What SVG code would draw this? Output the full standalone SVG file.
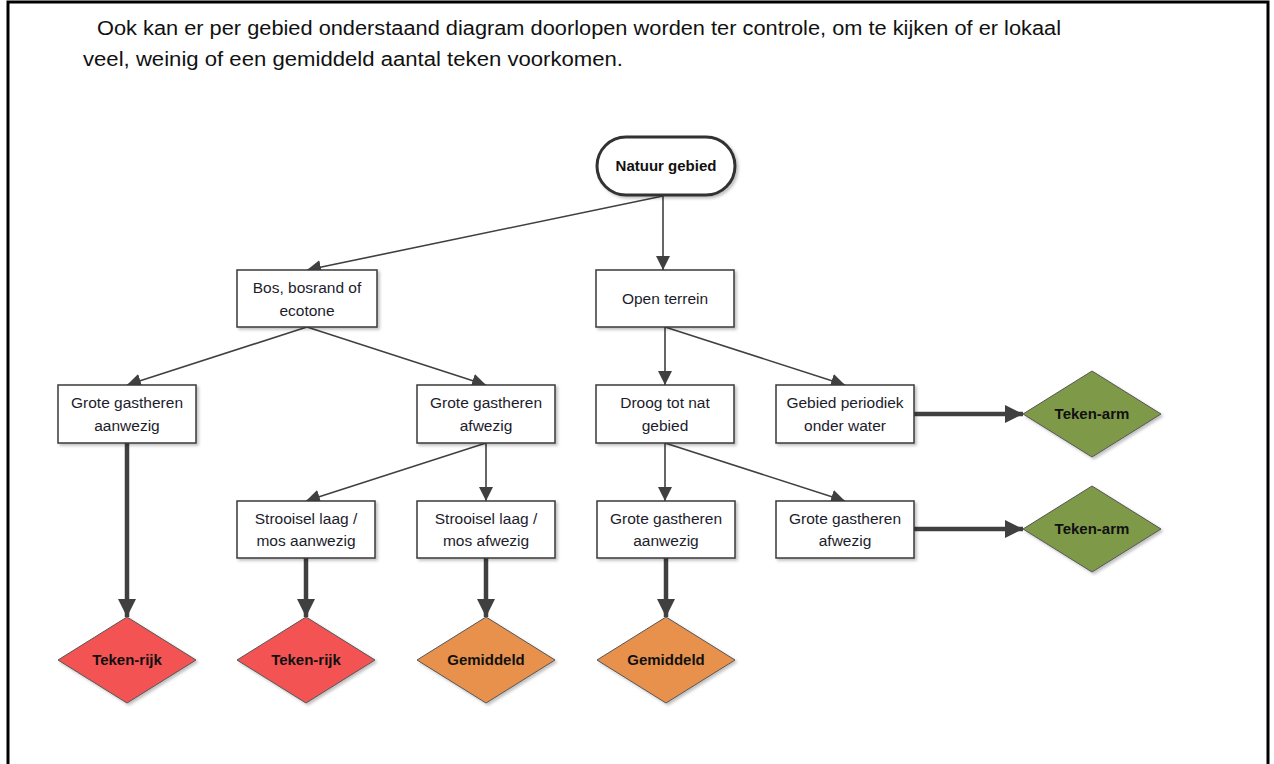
<svg xmlns="http://www.w3.org/2000/svg" width="1274" height="764" viewBox="0 0 1274 764">
<style>
.title{font-family:"Liberation Sans","DejaVu Sans",sans-serif;font-size:20px;fill:#111}
.box{fill:#fff;stroke:#3a3a3a;stroke-width:1.5}
.lbl{font-family:"Liberation Sans","DejaVu Sans",sans-serif;font-size:15.5px;fill:#1c1c2c;text-anchor:middle}
.dlbl{font-family:"Liberation Sans","DejaVu Sans",sans-serif;font-size:15px;font-weight:bold;fill:#111;text-anchor:middle}
.thin{stroke:#404040;stroke-width:1.6;fill:none;marker-end:url(#ah)}
.thick{stroke:#404040;stroke-width:4.5;fill:none;marker-end:url(#ahb)}
.red{fill:#F45252;stroke:#555;stroke-width:1}
.org{fill:#E8914E;stroke:#555;stroke-width:1}
.grn{fill:#7E9A48;stroke:#555;stroke-width:1}
</style>
<defs>
<filter id="sh" x="-20%" y="-20%" width="140%" height="140%">
<feDropShadow dx="2" dy="2" stdDeviation="1.5" flood-color="#000" flood-opacity="0.25"/>
</filter>
<marker id="ah" viewBox="0 0 10 10" refX="10" refY="5" markerWidth="14" markerHeight="14" markerUnits="userSpaceOnUse" orient="auto">
<path d="M0,0 L10,5 L0,10 Z" fill="#404040"/>
</marker>
<marker id="ahb" viewBox="0 0 10 10" refX="10" refY="5" markerWidth="18" markerHeight="18" markerUnits="userSpaceOnUse" orient="auto">
<path d="M0,0 L10,5 L0,10 Z" fill="#404040"/>
</marker>
</defs>
<rect x="0" y="0" width="1274" height="764" fill="#fff"/>
<path d="M8,764 V2 H1268 V764" fill="none" stroke="#000" stroke-width="3"/>
<text class="title" x="97" y="35" textLength="964" lengthAdjust="spacingAndGlyphs">Ook kan er per gebied onderstaand diagram doorlopen worden ter controle, om te kijken of er lokaal</text>
<text class="title" x="83" y="66" textLength="540" lengthAdjust="spacingAndGlyphs">veel, weinig of een gemiddeld aantal teken voorkomen.</text>

<g id="connectors">
<path class="thin" d="M663,196 L307,270"/>
<path class="thin" d="M663,196 L663,270"/>
<path class="thin" d="M307,327 L127,385"/>
<path class="thin" d="M307,327 L486,385"/>
<path class="thin" d="M665,327 L665,385"/>
<path class="thin" d="M665,327 L845,385"/>
<path class="thin" d="M486,443 L306,501"/>
<path class="thin" d="M486,443 L486,501"/>
<path class="thin" d="M665,443 L665,501"/>
<path class="thin" d="M665,443 L845,501"/>
<path class="thick" d="M127,443 L127,617"/>
<path class="thick" d="M306,558 L306,617"/>
<path class="thick" d="M486,558 L486,617"/>
<path class="thick" d="M666,558 L666,617"/>
<path class="thick" d="M914,414 L1023,414"/>
<path class="thick" d="M914,529 L1023,529"/>
</g>

<g id="root">
<rect x="597" y="137" width="138" height="58" rx="29" ry="29" fill="#fff" stroke="#333" stroke-width="3" filter="url(#sh)"/>
<text class="dlbl" x="666" y="171">Natuur gebied</text>
</g>
<g id="bos">
<rect class="box" x="237" y="270" width="140" height="57" filter="url(#sh)"/>
<text class="lbl" x="307" y="293">Bos, bosrand of</text>
<text class="lbl" x="307" y="316">ecotone</text>
</g>
<g id="open">
<rect class="box" x="596" y="270" width="138" height="57" filter="url(#sh)"/>
<text class="lbl" x="665" y="304">Open terrein</text>
</g>
<g id="gga1">
<rect class="box" x="58" y="385" width="138" height="58" filter="url(#sh)"/>
<text class="lbl" x="127" y="408">Grote gastheren</text>
<text class="lbl" x="127" y="431">aanwezig</text>
</g>
<g id="ggw1">
<rect class="box" x="417" y="385" width="138" height="58" filter="url(#sh)"/>
<text class="lbl" x="486" y="408">Grote gastheren</text>
<text class="lbl" x="486" y="431">afwezig</text>
</g>
<g id="droog">
<rect class="box" x="596" y="385" width="138" height="58" filter="url(#sh)"/>
<text class="lbl" x="665" y="408">Droog tot nat</text>
<text class="lbl" x="665" y="431">gebied</text>
</g>
<g id="periodiek">
<rect class="box" x="776" y="385" width="138" height="58" filter="url(#sh)"/>
<text class="lbl" x="845" y="408">Gebied periodiek</text>
<text class="lbl" x="845" y="431">onder water</text>
</g>
<g id="sla">
<rect class="box" x="237" y="501" width="138" height="57" filter="url(#sh)"/>
<text class="lbl" x="306" y="524">Strooisel laag /</text>
<text class="lbl" x="306" y="546">mos aanwezig</text>
</g>
<g id="slw">
<rect class="box" x="417" y="501" width="138" height="57" filter="url(#sh)"/>
<text class="lbl" x="486" y="524">Strooisel laag /</text>
<text class="lbl" x="486" y="546">mos afwezig</text>
</g>
<g id="gga2">
<rect class="box" x="597" y="501" width="138" height="57" filter="url(#sh)"/>
<text class="lbl" x="666" y="524">Grote gastheren</text>
<text class="lbl" x="666" y="546">aanwezig</text>
</g>
<g id="ggw2">
<rect class="box" x="776" y="501" width="138" height="57" filter="url(#sh)"/>
<text class="lbl" x="845" y="524">Grote gastheren</text>
<text class="lbl" x="845" y="546">afwezig</text>
</g>

<g id="rijk1">
<polygon class="red" points="127,617 196,660 127,703 58,660" filter="url(#sh)"/>
<text class="dlbl" x="127" y="665">Teken-rijk</text>
</g>
<g id="rijk2">
<polygon class="red" points="306,617 375,660 306,703 237,660" filter="url(#sh)"/>
<text class="dlbl" x="306" y="665">Teken-rijk</text>
</g>
<g id="gem1">
<polygon class="org" points="486,617 555,660 486,703 417,660" filter="url(#sh)"/>
<text class="dlbl" x="486" y="665">Gemiddeld</text>
</g>
<g id="gem2">
<polygon class="org" points="666,617 735,660 666,703 597,660" filter="url(#sh)"/>
<text class="dlbl" x="666" y="665">Gemiddeld</text>
</g>
<g id="arm1">
<polygon class="grn" points="1092,371 1161,414 1092,457 1023,414" filter="url(#sh)"/>
<text class="dlbl" x="1092" y="419">Teken-arm</text>
</g>
<g id="arm2">
<polygon class="grn" points="1092,486 1161,529 1092,572 1023,529" filter="url(#sh)"/>
<text class="dlbl" x="1092" y="534">Teken-arm</text>
</g>
</svg>
